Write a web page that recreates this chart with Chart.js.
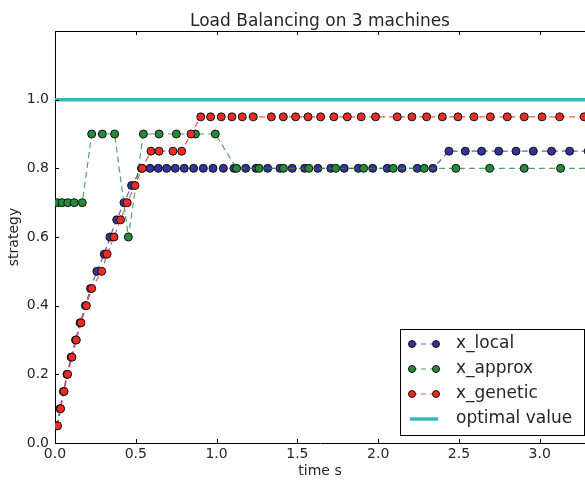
<!DOCTYPE html>
<html>
<head>
<meta charset="utf-8">
<script src="https://cdn.jsdelivr.net/npm/chart.js@4.4.0/dist/chart.umd.min.js"></script>
<style>
  html, body { margin: 0; padding: 0; background: #fff; }
  #wrap { width: 585px; height: 480px; }
</style>
</head>
<body>
<div id="wrap"><canvas id="lb" width="585" height="480"></canvas></div>
<script>
// tiempos (s) y estrategia de cada método
const tLocal = [0.012, 0.031, 0.052, 0.074, 0.100, 0.127, 0.155, 0.188, 0.220, 0.259,
  0.305, 0.340, 0.382, 0.427, 0.474, 0.535, 0.588, 0.639, 0.691, 0.744,
  0.800, 0.858, 0.918, 0.978, 1.042, 1.108, 1.180, 1.244, 1.316, 1.392,
  1.468, 1.545, 1.627, 1.707, 1.790, 1.877, 1.966, 2.056, 2.147, 2.242,
  2.339, 2.438, 2.539, 2.640, 2.746, 2.853, 2.960, 3.073, 3.185, 3.300];
const xLocal = [0.05, 0.10, 0.15, 0.20, 0.25, 0.30, 0.35, 0.40, 0.45, 0.50,
  0.55, 0.60, 0.65, 0.70, 0.75, 0.80, 0.80, 0.80, 0.80, 0.80,
  0.80, 0.80, 0.80, 0.80, 0.80, 0.80, 0.80, 0.80, 0.80, 0.80,
  0.80, 0.80, 0.80, 0.80, 0.80, 0.80, 0.80, 0.80, 0.80, 0.80,
  0.80, 0.85, 0.85, 0.85, 0.85, 0.85, 0.85, 0.85, 0.85, 0.85];

const tApprox = [0.014, 0.043, 0.079, 0.119, 0.169, 0.227, 0.293, 0.369, 0.454, 0.547,
  0.644, 0.751, 0.869, 0.992, 1.124, 1.263, 1.414, 1.571, 1.737, 1.910,
  2.093, 2.285, 2.481, 2.690, 2.904, 3.129, 3.360];
const xApprox = [0.70, 0.70, 0.70, 0.70, 0.70, 0.90, 0.90, 0.90, 0.60, 0.90,
  0.90, 0.90, 0.90, 0.90, 0.80, 0.80, 0.80, 0.80, 0.80, 0.80,
  0.80, 0.80, 0.80, 0.80, 0.80, 0.80, 0.80];

const tGenetic = [0.016, 0.035, 0.056, 0.078, 0.105, 0.132, 0.161, 0.194, 0.227, 0.289,
  0.322, 0.365, 0.406, 0.447, 0.495, 0.540, 0.594, 0.644, 0.730, 0.784,
  0.842, 0.902, 0.963, 1.029, 1.095, 1.159, 1.227, 1.339, 1.413, 1.489,
  1.566, 1.644, 1.726, 1.809, 1.895, 1.984, 2.118, 2.209, 2.300, 2.397,
  2.494, 2.593, 2.694, 2.799, 2.904, 3.014, 3.123, 3.275, 3.390];
const xGenetic = [0.05, 0.10, 0.15, 0.20, 0.25, 0.30, 0.35, 0.40, 0.45, 0.50,
  0.55, 0.60, 0.65, 0.70, 0.75, 0.80, 0.85, 0.85, 0.85, 0.85,
  0.90, 0.95, 0.95, 0.95, 0.95, 0.95, 0.95, 0.95, 0.95, 0.95,
  0.95, 0.95, 0.95, 0.95, 0.95, 0.95, 0.95, 0.95, 0.95, 0.95,
  0.95, 0.95, 0.95, 0.95, 0.95, 0.95, 0.95, 0.95, 0.95];

const tOptimo = [0, 3.5];
const xOptimo = [1.0, 1.0];

const xTicks = [0, 0.5, 1.0, 1.5, 2.0, 2.5, 3.0];
const yTicks = [0, 0.2, 0.4, 0.6, 0.8, 1.0];

const fuente = 'DejaVu Sans';
const textoColor = '#262626';

const puntos = (ts, vs) => ts.map((t, i) => ({ x: t, y: vs[i] }));

function serie(label, ts, vs, color, linea, orden) {
  return {
    label: label,
    data: puntos(ts, vs),
    borderColor: linea,
    borderWidth: 1.2,
    borderDash: [6, 4],
    pointRadius: 4,
    pointBorderWidth: 1,
    pointBackgroundColor: color,
    pointBorderColor: '#111',
    tension: 0,
    order: orden
  };
}

const datasets = [
  serie('x_local', tLocal, xLocal, '#33339a', 'rgba(55,55,165,0.8)', 3),
  serie('x_approx', tApprox, xApprox, '#278a3a', 'rgba(40,140,60,0.8)', 2),
  serie('x_genetic', tGenetic, xGenetic, '#ee2c24', 'rgba(235,45,40,0.8)', 1),
  {
    label: 'optimal value',
    data: puntos(tOptimo, xOptimo),
    borderColor: '#30bdb6',
    borderWidth: 3.5,
    pointRadius: 0,
    order: 0
  }
];

// marco, marcas hacia dentro, título y leyenda
const marco = {
  id: 'marco',
  afterDraw(chart) {
    const { ctx, chartArea: a, scales } = chart;
    const sx = scales.x, sy = scales.y;
    ctx.save();
    ctx.strokeStyle = '#000';
    ctx.lineWidth = 1;
    ctx.beginPath();
    ctx.moveTo(a.left, a.top + 0.5);
    ctx.lineTo(a.right, a.top + 0.5);
    ctx.stroke();

    ctx.beginPath();
    xTicks.forEach(v => {
      const px = Math.round(sx.getPixelForValue(v)) + 0.5;
      ctx.moveTo(px, a.bottom); ctx.lineTo(px, a.bottom - 4);
      ctx.moveTo(px, a.top); ctx.lineTo(px, a.top + 4);
    });
    yTicks.forEach(v => {
      const py = Math.round(sy.getPixelForValue(v)) + 0.5;
      ctx.moveTo(a.left, py); ctx.lineTo(a.left + 4, py);
    });
    ctx.stroke();

    // título
    ctx.fillStyle = textoColor;
    ctx.font = '17px "' + fuente + '"';
    ctx.textAlign = 'center';
    ctx.textBaseline = 'alphabetic';
    ctx.fillText('Load Balancing on 3 machines', (a.left + a.right) / 2, 26);

    // leyenda
    const w = 184, h = 106;
    const bx = a.right - w - 1, by = a.bottom - h - 8;
    ctx.fillStyle = '#fff';
    ctx.fillRect(bx, by, w, h);
    ctx.strokeStyle = '#000';
    ctx.lineWidth = 1;
    ctx.strokeRect(Math.round(bx) + 0.5, Math.round(by) + 0.5, w, h);
    ctx.font = '17px "' + fuente + '"';
    ctx.textAlign = 'left';
    ctx.textBaseline = 'middle';
    datasets.forEach((ds, i) => {
      const cy = by + 15 + i * 25;
      const x1 = bx + 12, x2 = bx + 36;
      ctx.save();
      ctx.strokeStyle = ds.borderColor;
      ctx.lineWidth = ds.borderWidth;
      if (ds.borderDash) ctx.setLineDash([5, 4]);
      ctx.beginPath();
      ctx.moveTo(ds.pointRadius ? x1 : x1 - 2, cy);
      ctx.lineTo(ds.pointRadius ? x2 : x2 + 2, cy);
      ctx.stroke();
      ctx.restore();
      if (ds.pointRadius) {
        [x1, x2].forEach(px => {
          ctx.beginPath();
          ctx.arc(px, cy, 3.5, 0, Math.PI * 2);
          ctx.fillStyle = ds.pointBackgroundColor;
          ctx.fill();
          ctx.strokeStyle = '#111';
          ctx.stroke();
        });
      }
      ctx.fillStyle = textoColor;
      ctx.fillText(ds.label, bx + 56, cy);
    });
    ctx.restore();
  }
};

Chart.defaults.font.family = fuente;
Chart.defaults.color = textoColor;

new Chart('lb', {
  type: 'line',
  data: { datasets },
  options: {
    responsive: false,
    animation: false,
    devicePixelRatio: 1,
    layout: { autoPadding: false, padding: { top: 31, left: 0, right: 0, bottom: 0 } },
    plugins: { legend: { display: false }, tooltip: { enabled: false }, title: { display: false } },
    scales: {
      x: {
        type: 'linear',
        min: 0,
        max: 3.28,
        afterBuildTicks: s => { s.ticks = xTicks.map(v => ({ value: v })); },
        afterFit: s => { s.height = 37; s.paddingLeft = 0; s.paddingRight = 0; },
        grid: { display: false, drawTicks: false },
        border: { display: true, color: '#000', width: 1 },
        ticks: { padding: 3, maxRotation: 0, font: { size: 14 }, callback: v => v.toFixed(1) },
        title: { display: true, text: 'time s', font: { size: 14 }, padding: { top: 0, bottom: 0 } }
      },
      y: {
        min: 0,
        max: 1.2,
        afterBuildTicks: s => { s.ticks = yTicks.map(v => ({ value: v })); },
        afterFit: s => { s.width = 55; s.paddingTop = 0; s.paddingBottom = 0; },
        grid: { display: false, drawTicks: false },
        border: { display: true, color: '#000', width: 1 },
        ticks: { padding: 6, font: { size: 14 }, callback: v => v.toFixed(1) },
        title: { display: true, text: 'strategy', font: { size: 14 }, padding: { top: 6, bottom: 0 } }
      }
    }
  },
  plugins: [marco]
});
</script>
</body>
</html>
